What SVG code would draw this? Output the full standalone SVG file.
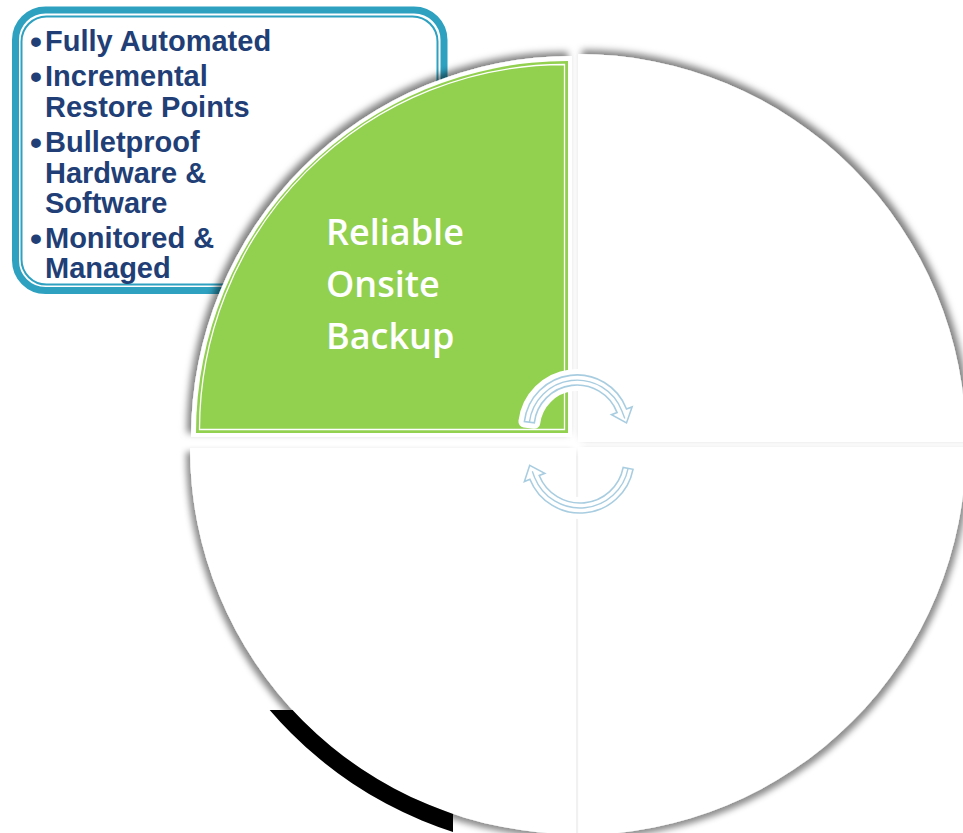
<svg xmlns="http://www.w3.org/2000/svg" width="963" height="833" viewBox="0 0 963 833">
<defs>
<style>
.bul{font-family:"Liberation Sans",Arial,sans-serif;font-weight:bold;font-size:29px;fill:#213f76}
.big{font-size:34px}
.lbl{font-family:"Open Sans","DejaVu Sans",sans-serif;font-weight:600;font-size:36px;fill:#ffffff}
.quad{fill:#ffffff}
.arrow{fill:#ffffff;stroke:#a8cde0;stroke-width:1.6;stroke-linejoin:miter}
.halo{fill:#ffffff;stroke:#ffffff;stroke-width:12;stroke-linejoin:round}
.mid{fill:none;stroke:#a8cde0;stroke-width:1.4}
</style>
<filter id="shTL" x="-10%" y="-10%" width="120%" height="120%"><feDropShadow dx="-4" dy="-4" stdDeviation="3.5" flood-color="#000" flood-opacity="0.5"/></filter>
<filter id="shTR" x="-10%" y="-10%" width="120%" height="120%"><feDropShadow dx="4" dy="-4" stdDeviation="3.5" flood-color="#000" flood-opacity="0.5"/></filter>
<filter id="shBL" x="-10%" y="-10%" width="120%" height="120%"><feDropShadow dx="-4" dy="4" stdDeviation="3" flood-color="#000" flood-opacity="0.45"/></filter>
<filter id="shBR" x="-10%" y="-10%" width="120%" height="120%"><feDropShadow dx="4" dy="4" stdDeviation="3" flood-color="#000" flood-opacity="0.45"/></filter>
<clipPath id="blackClip"><rect x="0" y="710" width="453" height="130"/></clipPath>
</defs>
<rect width="963" height="833" fill="#ffffff"/>

<g id="callout">
<rect x="15.5" y="10" width="428.5" height="280.5" rx="30" fill="#ffffff" stroke="#2ea1c1" stroke-width="7"/>
<rect x="21.5" y="16.5" width="416" height="268" rx="25" fill="none" stroke="#2ea1c1" stroke-width="2"/>
<text class="bul"><tspan class="big" x="30" y="53">•</tspan><tspan x="45" y="51">Fully Automated</tspan></text>
<text class="bul"><tspan class="big" x="30" y="88">•</tspan><tspan x="45" y="86">Incremental</tspan><tspan x="45" y="117">Restore Points</tspan></text>
<text class="bul"><tspan class="big" x="30" y="154">•</tspan><tspan x="45" y="152">Bulletproof</tspan><tspan x="45" y="183">Hardware &amp;</tspan><tspan x="45" y="213">Software</tspan></text>
<text class="bul"><tspan class="big" x="30" y="250">•</tspan><tspan x="45" y="248">Monitored &amp;</tspan><tspan x="45" y="278">Managed</tspan></text>
</g>

<g id="quadrant-tr">
<path class="quad" filter="url(#shTR)" d="M578,442 L578,54 A388,388 0 0 1 966,442 Z"/>
</g>

<g id="quadrant-br">
<path class="quad" filter="url(#shBR)" d="M578,447 L966,447 A388,388 0 0 1 578,835 Z"/>
</g>

<g id="quadrant-bl">
<path class="quad" filter="url(#shBL)" d="M576,448 L576,834 A386,386 0 0 1 190,448 Z"/>
<path clip-path="url(#blackClip)" fill="#000000" fill-rule="evenodd" d="M576,448 m-403,0 a403,403 0 1 0 806,0 a403,403 0 1 0 -806,0 Z M576,448 m-386,0 a386,386 0 1 0 772,0 a386,386 0 1 0 -772,0 Z"/>
</g>

<g id="quadrant-tl">
<path class="quad" filter="url(#shTL)" d="M572,437 L191,437 A381,381 0 0 1 572,56 Z"/>
<path fill="#92d050" d="M568,433 L196,433 A372,372 0 0 1 568,61 Z"/>
<path fill="none" stroke="#ffffff" stroke-width="1.3" d="M564.5,429.5 L199.5,429.5 A365,365 0 0 1 564.5,64.5 Z"/>
<text class="lbl"><tspan x="326" y="245">Reliable</tspan><tspan x="326" y="297">Onsite</tspan><tspan x="326" y="349">Backup</tspan></text>
</g>

<g id="connectors">
<path class="halo" d="M524.4,421.5 A53,53 0 0 1 626.5,409 L632.1,406.9 L626.5,422.9 L611.5,414.7 L617.1,412.6 A43,43 0 0 0 534.3,422.8 Z"/>
<path class="arrow" d="M524.4,421.5 A53,53 0 0 1 626.5,409 L632.1,406.9 L626.5,422.9 L611.5,414.7 L617.1,412.6 A43,43 0 0 0 534.3,422.8 Z"/>
<path class="mid" d="M529.4,422.2 A48,48 0 0 1 621.8,410.8 L624.8,418.6"/>
<path class="halo" d="M633,469.3 A54,54 0 0 1 529.9,479.2 L524.4,481.5 L529.7,465.3 L544.8,473.3 L539.2,475.5 A44,44 0 0 0 623.2,467.4 Z"/>
<path class="arrow" d="M633,469.3 A54,54 0 0 1 529.9,479.2 L524.4,481.5 L529.7,465.3 L544.8,473.3 L539.2,475.5 A44,44 0 0 0 623.2,467.4 Z"/>
<path class="mid" d="M628.1,468.3 A49,49 0 0 1 534.6,477.4 L532.3,471.3"/>
</g>
</svg>
